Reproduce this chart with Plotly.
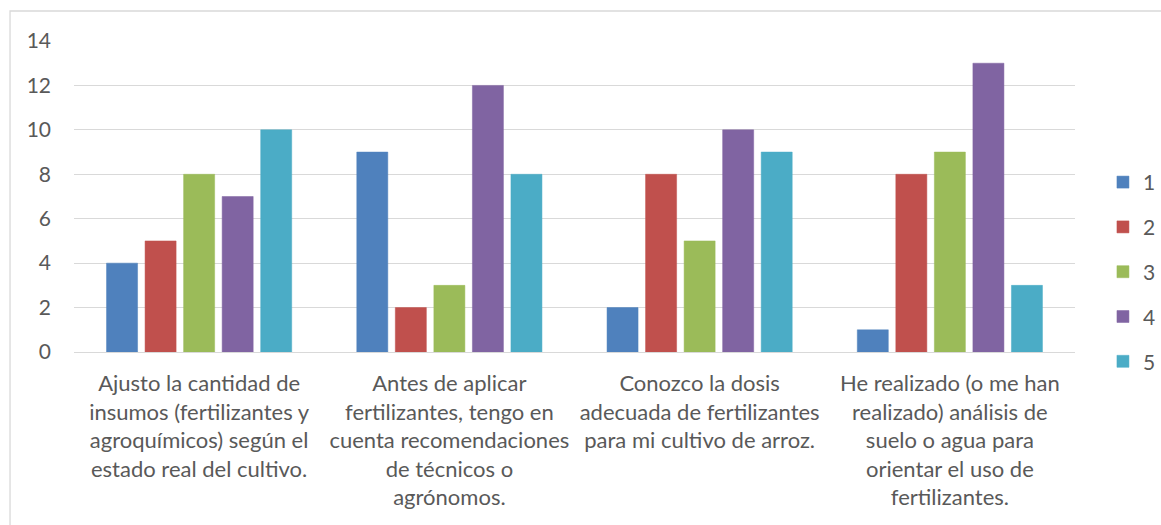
import plotly.graph_objects as go

categories = [
    "Ajusto la cantidad de<br>insumos (fertilizantes y<br>agroquímicos) según el<br>estado real del cultivo.",
    "Antes de aplicar<br>fertilizantes, tengo en<br>cuenta recomendaciones<br>de técnicos o<br>agrónomos.",
    "Conozco la dosis<br>adecuada de fertilizantes<br>para mi cultivo de arroz.",
    "He realizado (o me han<br>realizado) análisis de<br>suelo o agua para<br>orientar el uso de<br>fertilizantes.",
]
series_names = ["1", "2", "3", "4", "5"]
s1 = [4, 9, 2, 1]
s2 = [5, 2, 8, 8]
s3 = [8, 3, 5, 9]
s4 = [7, 12, 10, 13]
s5 = [10, 8, 9, 3]
series_values = [s1, s2, s3, s4, s5]
colors = ["#4F81BD", "#C0504D", "#9BBB59", "#8064A2", "#4BACC6"]

FONT = "Lato, 'Open Sans', sans-serif"
TXT = "#595959"

fig = go.Figure()
for name, vals, col in zip(series_names, series_values, colors):
    fig.add_trace(go.Bar(
        x=categories, y=vals, name=name, legendgroup=name,
        marker=dict(color=col, line=dict(color=col, width=0.5)),
    ))

fig.update_layout(
    width=1161, height=525,
    margin=dict(l=74, r=86, t=41, b=173, autoexpand=False),
    paper_bgcolor="white", plot_bgcolor="white",
    barmode="group", bargap=0.23, bargroupgap=0.195,
    font=dict(family=FONT, size=21, color=TXT),
    showlegend=True,
    legend=dict(
        xref="container", yref="container",
        x=0.950, xanchor="left", y=0.482, yanchor="middle",
        font=dict(family=FONT, size=21, color=TXT),
        tracegroupgap=14.5, itemwidth=30, bgcolor="rgba(0,0,0,0)",
    ),
    xaxis=dict(
        showgrid=False, showline=False, zeroline=False,
        tickfont=dict(family=FONT, size=22, color=TXT), ticks="",
        ticklabelstandoff=16,
    ),
    yaxis=dict(
        range=[0, 14], dtick=2, showgrid=True, gridcolor="#D9D9D9", gridwidth=1.3,
        zeroline=True, zerolinecolor="#D9D9D9", zerolinewidth=1.3,
        showline=False, ticks="", ticklabelstandoff=22,
        tickfont=dict(family=FONT, size=21, color=TXT),
    ),
    shapes=[dict(
        type="rect", xref="paper", yref="paper",
        x0=-0.0639, x1=1.2, y0=-0.7, y1=1.0965,
        line=dict(color="#D9D9D9", width=1.3), fillcolor="rgba(0,0,0,0)", layer="below",
    )],
)

fig.write_html(
    "out.html",
    config={"displayModeBar": False},
    post_script="document.body.style.margin='0';document.body.style.overflow='hidden';",
)
